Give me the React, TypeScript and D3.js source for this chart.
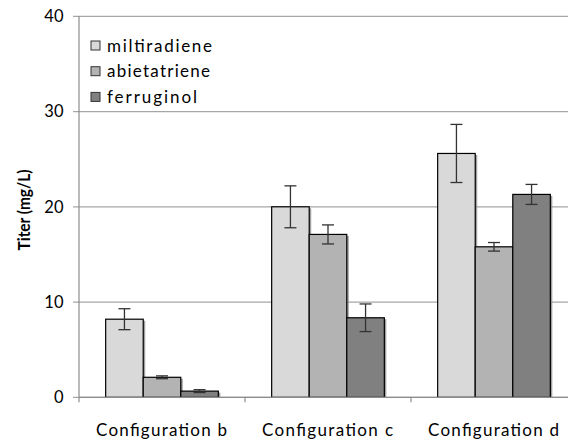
import React from "react";
import * as d3 from "d3";

const categories = ["Configuration b", "Configuration c", "Configuration d"];
const seriesNames = ["miltiradiene", "abietatriene", "ferruginol"];
const seriesColors = ["#d9d9d9", "#b3b3b3", "#808080"];
const miltiradiene = [8.2, 20.0, 25.6];
const abietatriene = [2.1, 17.1, 15.8];
const ferruginol = [0.65, 8.35, 21.3];
const miltiradieneErr = [1.1, 2.2, 3.05];
const abietatrieneErr = [0.15, 1.0, 0.45];
const ferruginolErr = [0.15, 1.45, 1.05];
const yTicks = [0, 10, 20, 30, 40];

const values = [miltiradiene, abietatriene, ferruginol];
const errors = [miltiradieneErr, abietatrieneErr, ferruginolErr];

export default function App() {
  const W = 568, H = 440;
  const left = 79, right = 577, top = 16.3, bottom = 397.3;
  const font = "Lato, 'Open Sans', sans-serif";

  const x0 = d3.scaleBand().domain(categories).range([left, right]).paddingInner(0).paddingOuter(0);
  const x1 = d3.scaleBand().domain(seriesNames).range([0, x0.bandwidth()]).paddingInner(0).paddingOuter(0.71);
  const y = d3.scaleLinear().domain([0, 40]).range([bottom, top]);

  const catTicks = [left, ...categories.map((c) => (x0(c) as number) + x0.bandwidth())];
  const legendLens = [105, 103, 90];

  return (
    <svg width={W} height={H} style={{ position: "absolute", left: 0, top: 0 }} fontFamily={font}>
      <rect width={W} height={H} fill="#fff" />
      {yTicks.map((t) => (
        <g key={t}>
          <line x1={left - 6} x2={right} y1={y(t)} y2={y(t)} stroke="#a6a6a6" strokeWidth={1.2} />
          <text x={63.5} y={y(t)} dy="0.36em" textAnchor="end" fontSize={16.5} fill="#000">{t}</text>
        </g>
      ))}
      <line x1={left} x2={left} y1={top} y2={bottom} stroke="#8c8c8c" strokeWidth={1.2} />
      {catTicks.map((cx, i) => (
        <line key={i} x1={cx} x2={cx} y1={bottom} y2={bottom + 5} stroke="#8c8c8c" strokeWidth={1.2} />
      ))}
      {seriesNames.map((s, si) =>
        categories.map((c, ci) => {
          const bx = (x0(c) as number) + (x1(s) as number);
          const bw = x1.bandwidth();
          const v = values[si][ci];
          const e = errors[si][ci];
          const cx = bx + bw / 2;
          return (
            <g key={s + c}>
              <rect x={bx + 2} y={y(v) + 1.5} width={bw} height={bottom - y(v) - 1.5} fill="#8a8a8a" opacity={0.8} />
              <rect x={bx} y={y(v)} width={bw} height={bottom - y(v)} fill={seriesColors[si]} stroke="#000" strokeWidth={1.2} />
              <line x1={cx} x2={cx} y1={y(v + e)} y2={y(v - e)} stroke="#333" strokeWidth={1.3} />
              <line x1={cx - 6} x2={cx + 6} y1={y(v + e)} y2={y(v + e)} stroke="#333" strokeWidth={1.3} />
              <line x1={cx - 6} x2={cx + 6} y1={y(v - e)} y2={y(v - e)} stroke="#333" strokeWidth={1.3} />
            </g>
          );
        })
      )}
      <line x1={left} x2={right} y1={bottom} y2={bottom} stroke="#8c8c8c" strokeWidth={1.2} />
      {categories.map((c) => (
        <text key={c} x={(x0(c) as number) + x0.bandwidth() / 2 - 0.5} y={436} textAnchor="middle" fontSize={17} textLength={131} lengthAdjust="spacing" fill="#000">{c}</text>
      ))}
      <text transform={`translate(30,210) rotate(-90)`} textAnchor="middle" fontSize={17} fontWeight="bold" textLength={81} lengthAdjust="spacingAndGlyphs" fill="#000">Titer (mg/L)</text>
      {seriesNames.map((s, i) => (
        <g key={s} transform={`translate(91,${45.5 + i * 25.7})`}>
          <rect x={0} y={-4.5} width={9} height={9} fill={seriesColors[i]} stroke="#333" strokeWidth={1} />
          <text x={16} y={0} dy="0.36em" fontSize={17} textLength={legendLens[i]} lengthAdjust="spacing" fill="#000">{s}</text>
        </g>
      ))}
    </svg>
  );
}
